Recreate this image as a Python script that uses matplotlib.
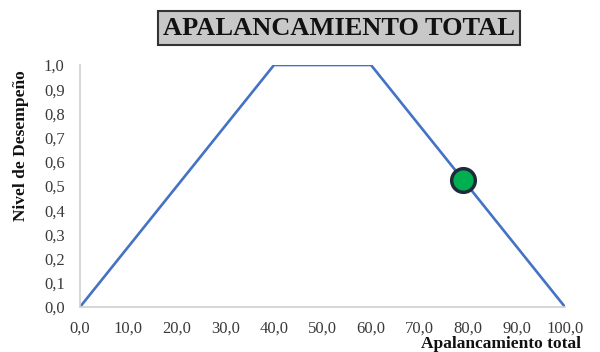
import matplotlib.pyplot as plt
import matplotlib.ticker as ticker

# trapezoidal membership function
x_vals = [0, 40, 60, 100]
y_vals = [0.0, 1.0, 1.0, 0.0]

# evaluated point
point_x = 79.0
point_y = 0.525

x_ticks = [0, 10, 20, 30, 40, 50, 60, 70, 80, 90, 100]
y_ticks = [0.0, 0.1, 0.2, 0.3, 0.4, 0.5, 0.6, 0.7, 0.8, 0.9, 1.0]

plt.rcParams['font.family'] = ['Liberation Serif', 'DejaVu Serif']

fig = plt.figure(figsize=(6, 3.52), dpi=100)
ax = fig.add_axes([0.1333, 0.1278, 0.8084, 0.6875])

ax.plot(x_vals, y_vals, color='#4472C4', linewidth=1.9, zorder=2)
ax.plot(point_x, point_y, 'o', markersize=17, markerfacecolor='#00B050',
        markeredgecolor='#1E2B3C', markeredgewidth=2.5, zorder=3)

ax.set_xlim(0, 100)
ax.set_ylim(0, 1.0)
ax.set_xticks(x_ticks)
ax.set_yticks(y_ticks)
fmt = ticker.FuncFormatter(lambda v, p: ('%.1f' % v).replace('.', ','))
ax.xaxis.set_major_formatter(fmt)
ax.yaxis.set_major_formatter(fmt)
ax.tick_params(axis='both', length=0, labelsize=12, colors='#3a3a3a')
ax.tick_params(axis='x', pad=10)
ax.tick_params(axis='y', pad=11)

for side in ['top', 'right']:
    ax.spines[side].set_visible(False)
for side in ['left', 'bottom']:
    ax.spines[side].set_color('#d0d0d0')
    ax.spines[side].set_linewidth(1.2)

fig.text(0.565, 0.92, 'APALANCAMIENTO TOTAL', ha='center', va='center',
         fontsize=19, fontweight='bold', color='#111111',
         bbox=dict(boxstyle='square,pad=0.2', facecolor='#c8c8c8',
                   edgecolor='#333333', linewidth=1.5))

fig.text(0.968, 0.0, 'Apalancamiento total', ha='right', va='bottom',
         fontsize=12.5, fontweight='bold', color='#111111')
fig.text(0.035, 0.585, 'Nivel de Desempeño', ha='center', va='center',
         rotation=90, fontsize=12.5, fontweight='bold', color='#111111')

fig.savefig('out.png', dpi=100)
